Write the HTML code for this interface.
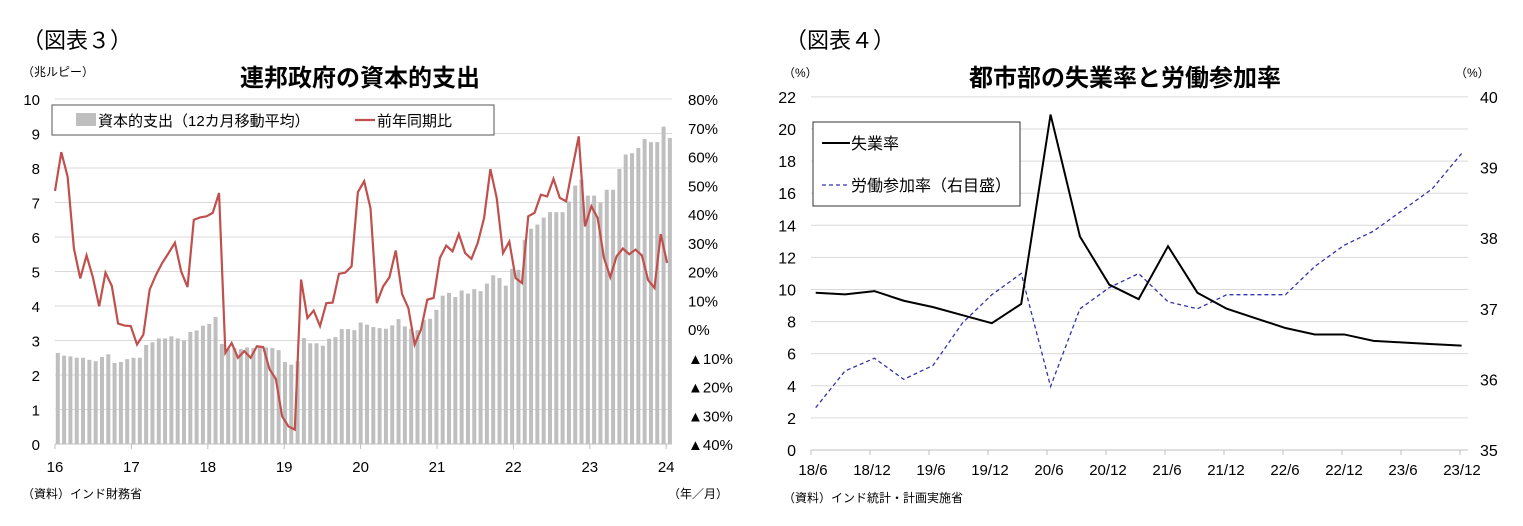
<!DOCTYPE html>
<html><head><meta charset="utf-8">
<style>
body{margin:0;background:#fff;width:1523px;height:521px;overflow:hidden;font-family:"Liberation Sans","Noto Sans CJK JP",sans-serif;}
svg text{font-family:"Liberation Sans","Noto Sans CJK JP",sans-serif;}
</style></head>
<body>
<svg id="c" width="1523" height="521" xmlns="http://www.w3.org/2000/svg">
<text x="22" y="48" font-size="22" font-family="Liberation Serif,Noto Serif CJK SC,serif">（図表３）</text>
<text x="360" y="86" font-size="24" font-weight="bold" text-anchor="middle">連邦政府の資本的支出</text>
<text x="22" y="76" font-size="12">（兆ルピー）</text>
<text x="22" y="498" font-size="12">（資料）インド財務省</text>
<text x="668" y="498" font-size="12">（年／月）</text>
<g id="L"></g>
<text x="785" y="48" font-size="22" font-family="Liberation Serif,Noto Serif CJK SC,serif">（図表４）</text>
<text x="1125" y="86" font-size="24" font-weight="bold" text-anchor="middle">都市部の失業率と労働参加率</text>
<text x="783" y="77" font-size="12">（%）</text>
<text x="1455" y="77" font-size="12">（%）</text>
<text x="783" y="502" font-size="12">（資料）インド統計・計画実施省</text>
<g id="R"></g>
</svg>
<script>
const capexBars=[2.64,2.56,2.54,2.5,2.5,2.44,2.4,2.52,2.6,2.35,2.38,2.46,2.5,2.5,2.87,2.95,3.06,3.06,3.12,3.06,3.0,3.25,3.29,3.43,3.48,3.68,
2.9,2.75,2.78,2.75,2.8,2.78,2.8,2.8,2.78,2.72,2.38,2.3,2.4,3.07,2.92,2.92,2.85,3.05,3.1,3.33,3.33,3.3,3.52,
3.46,3.39,3.36,3.34,3.44,3.62,3.41,3.34,3.3,3.6,3.63,3.89,4.3,4.38,4.26,4.45,4.36,4.49,4.43,4.65,4.89,4.81,4.59,5.08,5.05,5.92,6.24,6.36,6.56,6.72,6.72,6.72,7.03,7.49,7.66,7.2,7.2,6.99,7.37,7.37,7.97,8.39,8.43,8.58,8.84,8.75,8.75,9.2,8.87];
const capexYoY=[48,61.5,53,28,17.6,25.6,18,7.9,19.6,15,1.9,1.2,1,-5.4,-2,13.7,18.8,23,26.4,30,20,14.6,38,38.8,39.2,40.4,47.3,-8.3,-4.9,-10,-7.7,-10,-6,-6.3,-14,-17.4,-30.4,-33.9,-35,17.2,3.8,6.4,1,9,9.2,19.2,19.6,21.8,47.6,51.4,
42,9,14.8,18,27.3,12.2,7.3,-5.4,-0.2,10.2,10.8,24.7,29,27,33,26.4,24.4,30,38.6,55.6,45.6,26.4,30.4,17.7,16,39.2,40.4,46.7,46.1,52.2,45.6,44.4,56,67,35.7,42.7,38.6,24.7,18,25.3,28,26,27.6,25.6,17,14.3,33,23];
const leftTicks=["0","1","2","3","4","5","6","7","8","9","10"];
const rightTicks=["▲40%","▲30%","▲20%","▲10%","0%","10%","20%","30%","40%","50%","60%","70%","80%"];
const yearLabels=["16","17","18","19","20","21","22","23","24"];
const quarterLabels=["18/6","18/12","19/6","19/12","20/6","20/12","21/6","21/12","22/6","22/12","23/6","23/12"];
const unemp=[9.8,9.7,9.9,9.3,8.9,8.4,7.9,9.1,20.9,13.3,10.3,9.4,12.7,9.8,8.8,8.2,7.6,7.2,7.2,6.8,6.7,6.6,6.5];
const lfpr=[35.6,36.12,36.3,36.0,36.2,36.8,37.2,37.5,35.9,37.0,37.3,37.5,37.1,37.0,37.2,37.2,37.2,37.6,37.9,38.1,38.4,38.7,39.2];
const uTicks=["0","2","4","6","8","10","12","14","16","18","20","22"];
const pTicks=["35","36","37","38","39","40"];
const NS="http://www.w3.org/2000/svg";
function mk(p,t,a,txt){const e=document.createElementNS(NS,t);for(const k in a)e.setAttribute(k,a[k]);if(txt!=null)e.textContent=txt;p.appendChild(e);return e;}
// LEFT
const L=document.getElementById('L');
const lx=i=>55+i*6.31, ly=v=>444-v*34.5, lyp=p=>444-(p+40)/120*345;
leftTicks.forEach((t,i)=>{const y=ly(+t);
 if(i>0){const g=mk(L,'line',{x1:55,x2:672,y1:y,y2:y,stroke:'#d9d9d9','stroke-width':1});}
 const e=mk(L,'text',{x:40,y:y+6,'font-size':15,'text-anchor':'end'},t);});
rightTicks.forEach((t,i)=>{const e=mk(L,'text',{x:688,y:lyp(-40+i*10)+6,'font-size':15},t);});
capexBars.forEach((v,i)=>{const e=mk(L,'rect',{x:lx(i)+0.8,y:ly(v),width:4,height:v*34.5,fill:'#bfbfbf'});});
const ax=mk(L,'line',{x1:55,x2:672,y1:444,y2:444,stroke:'#bfbfbf'});
yearLabels.forEach((t,i)=>{const x=55+i*76.4;mk(L,'line',{x1:x,x2:x,y1:444,y2:449,stroke:'#bfbfbf'});
 const e=mk(L,'text',{x:x,y:472,'font-size':15,'text-anchor':'middle'},t);});
const lp=mk(L,'polyline',{points:capexYoY.map((p,i)=>lx(i)+','+lyp(p)).join(' '),fill:'none',stroke:'#c0504d','stroke-width':2.2});

const lg=mk(L,'g',{});
mk(lg,'rect',{x:52,y:105,width:442,height:30,fill:'#fff',stroke:'#555'});
mk(lg,'rect',{x:76,y:113,width:20,height:13,fill:'#bfbfbf'});
mk(lg,'text',{x:98,y:126,'font-size':15},'資本的支出（12カ月移動平均）');
mk(lg,'line',{x1:355,x2:375,y1:120,y2:120,stroke:'#c0504d','stroke-width':2.2});
mk(lg,'text',{x:377,y:126,'font-size':15},'前年同期比');
// RIGHT
const R=document.getElementById('R');
const rx=i=>815.7+i*29.36, ryu=v=>450-v*16.05, ryp=v=>450-(v-35)*70.6;
uTicks.forEach((t,i)=>{const y=ryu(+t);
 if(i>0){const g=mk(R,'line',{x1:811,x2:1468,y1:y,y2:y,stroke:'#d9d9d9'});}
 const e=mk(R,'text',{x:796,y:y+6,'font-size':16,'text-anchor':'end'},t);});
pTicks.forEach(t=>{const e=mk(R,'text',{x:1480,y:ryp(+t)+6,'font-size':16},t);});
const ax2=mk(R,'line',{x1:811,x2:1468,y1:450,y2:450,stroke:'#bfbfbf'});
quarterLabels.forEach((t,i)=>{const x=811+i*59;mk(R,'line',{x1:x,x2:x,y1:450,y2:455,stroke:'#bfbfbf'});
 const e=mk(R,'text',{x:x+2,y:475,'font-size':15,'text-anchor':'middle'},t);});
const pl=mk(R,'polyline',{points:lfpr.map((v,i)=>rx(i)+','+ryp(v)).join(' '),fill:'none',stroke:'#3333aa','stroke-width':1.3,'stroke-dasharray':'4,3'});

const ul=mk(R,'polyline',{points:unemp.map((v,i)=>rx(i)+','+ryu(v)).join(' '),fill:'none',stroke:'#000','stroke-width':2});

const rg=mk(R,'g',{});
mk(rg,'rect',{x:813,y:122,width:207,height:84,fill:'#fff',stroke:'#333'});
mk(rg,'line',{x1:822,x2:850,y1:143,y2:143,stroke:'#000','stroke-width':2});
mk(rg,'text',{x:851,y:149,'font-size':16},'失業率');
mk(rg,'line',{x1:822,x2:850,y1:185,y2:185,stroke:'#3333aa','stroke-width':1.3,'stroke-dasharray':'4,3'});
mk(rg,'text',{x:851,y:191,'font-size':16},'労働参加率（右目盛）');
</script>
</body></html>
